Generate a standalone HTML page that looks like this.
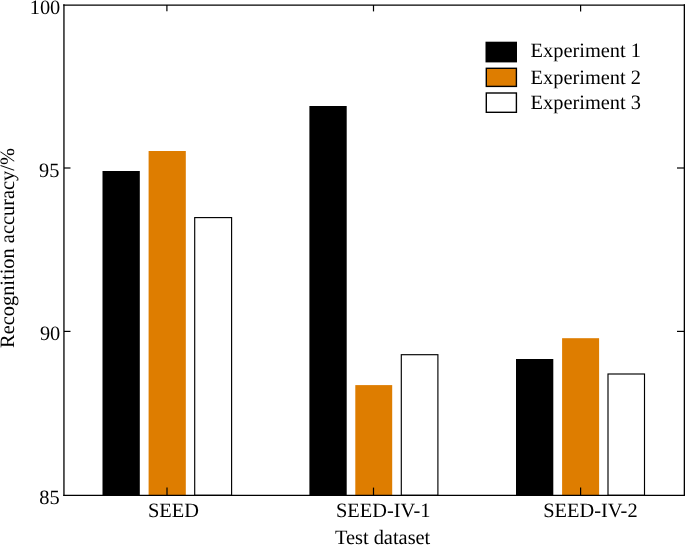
<!DOCTYPE html>
<html>
<head>
<meta charset="utf-8">
<style>
html,body{margin:0;padding:0;background:#fff;width:685px;height:545px;overflow:hidden}
svg{display:block;will-change:transform}
text{font-family:"Liberation Serif",serif;font-size:20.4px;fill:#000;text-rendering:geometricPrecision}
</style>
</head>
<body>
<svg width="685" height="545" viewBox="0 0 685 545">
<rect x="0" y="0" width="685" height="545" fill="#fff"/>
<!-- bars: black -->
<g fill="#000">
<rect x="102.5" y="171" width="37.3" height="324.3"/>
<rect x="309.4" y="106" width="37.3" height="389.3"/>
<rect x="516" y="359" width="37.3" height="136.3"/>
</g>
<!-- bars: orange -->
<g fill="#de7d00">
<rect x="148.6" y="151" width="37.2" height="344.3"/>
<rect x="355.3" y="385.1" width="36.9" height="110.2"/>
<rect x="562.1" y="338.2" width="37" height="157.1"/>
</g>
<!-- bars: white -->
<g fill="#fff" stroke="#000" stroke-width="1.15">
<rect x="194.7" y="217.6" width="36.9" height="277.7"/>
<rect x="401.3" y="354.7" width="36.6" height="140.6"/>
<rect x="608" y="374" width="36.5" height="121.3"/>
</g>
<!-- axes frame -->
<g stroke="#000" stroke-width="1.3" fill="none">
<line x1="63.95" y1="4.35" x2="63.95" y2="495.95"/>
<line x1="63.3" y1="5.1" x2="685" y2="5.1" stroke-width="1.15"/>
<line x1="63.3" y1="495.3" x2="685" y2="495.3"/>
<line x1="684.35" y1="4.35" x2="684.35" y2="495.95"/>
</g>
<!-- ticks -->
<g stroke="#000" stroke-width="1.2" fill="none">
<line x1="166.9" y1="5" x2="166.9" y2="11.3"/>
<line x1="373.5" y1="5" x2="373.5" y2="11.4"/>
<line x1="580.6" y1="5" x2="580.6" y2="11.4"/>
<line x1="167" y1="495" x2="167" y2="487.6"/>
<line x1="373.5" y1="495" x2="373.5" y2="487.6"/>
<line x1="580.6" y1="495" x2="580.6" y2="487.6"/>
<line x1="64" y1="168" x2="70.5" y2="168"/>
<line x1="64" y1="331.4" x2="70.5" y2="331.4"/>
<line x1="684" y1="168" x2="677" y2="168"/>
<line x1="684" y1="331.4" x2="677" y2="331.4"/>
</g>
<!-- y tick labels -->
<g text-anchor="end">
<text x="60.3" y="13.6">100</text>
<text x="59.4" y="176.6">95</text>
<text x="60.3" y="340">90</text>
<text x="59.6" y="503.8">85</text>
</g>
<!-- x tick labels -->
<text x="147.9" y="517.1">SEED</text>
<text x="336" y="517.1">SEED-IV-1</text>
<text x="543.2" y="517.1">SEED-IV-2</text>
<!-- axis labels -->
<text x="334.9" y="544">Test dataset</text>
<text transform="translate(14.1,248) rotate(-90)" text-anchor="middle">Recognition accuracy/%</text>
<!-- legend -->
<rect x="485.5" y="41.7" width="31.5" height="20.7" fill="#000"/>
<rect x="486.3" y="68.3" width="30.1" height="18.1" fill="#de7d00" stroke="#000" stroke-width="1.4"/>
<rect x="486.3" y="93" width="30.1" height="19.3" fill="#fff" stroke="#000" stroke-width="1.4"/>
<text x="530.6" y="57">Experiment 1</text>
<text x="530.6" y="83.6">Experiment 2</text>
<text x="530.6" y="109.3">Experiment 3</text>
</svg>
</body>
</html>
